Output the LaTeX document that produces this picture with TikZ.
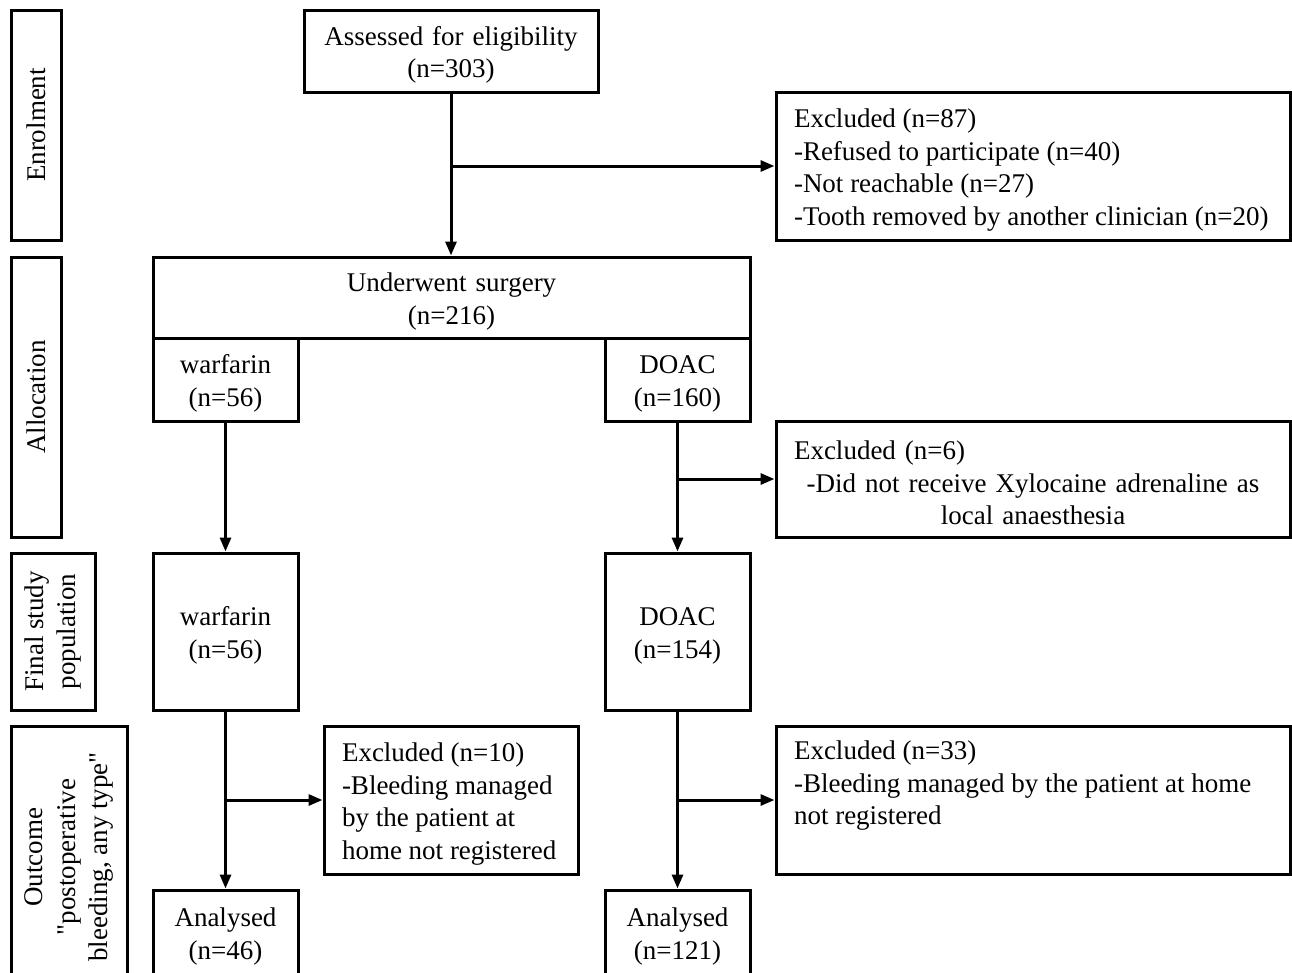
\documentclass[tikz,border=0pt]{standalone}
\usepackage{fontspec}
\newfontfamily\chartfont{Liberation Serif}
\usetikzlibrary{arrows.meta}

\def\pxu{0.75pt}

\begin{document}
\begin{tikzpicture}[x=0.75pt, y=-0.75pt, line width=2.25pt,
		base/.style={draw, line width=2.25pt, inner sep=0pt, align=center, font=\chartfont\fontsize{20.25pt}{24.5pt}\selectfont},
		box/.style={base, text width=#1, execute at begin node={\rule{0pt}{20pt}}},
		exbox/.style={box=#1, inner xsep=13.5pt, align=flush left},
		side/.style={base, rotate=90},
		arr/.style={-{Triangle[width=8.25pt,length=10.5pt]}}]
		\useasboundingbox[fill=white] (0,0) rectangle (1292,972);
		
		% enrolment
		\node[side, minimum width=230*\pxu, minimum height=50*\pxu] (enrol) at (36,125) {Enrolment};
		\node[box=220.5pt, minimum height=82*\pxu] (assess) at (451,51) {Assessed for eligibility\\(n=303)};
		\node[exbox=358.5pt, minimum height=148*\pxu] (exclA) at (1033,166) {Excluded (n=87)\\-Refused to participate (n=40)\\-Not reachable (n=27)\\\mbox{-Tooth removed by another clinician (n=20)}};
		
		% allocation
		\node[side, minimum width=280*\pxu, minimum height=50*\pxu] (alloc) at (36,397) {Allocation};
		\node[box=447.75pt, minimum height=81*\pxu] (surg) at (451.5,297.5) {Underwent surgery\\(n=216)};
		\node[box=108.75pt, minimum height=83*\pxu] (warfA) at (225.5,379.5) {warfarin\\(n=56)};
		\node[box=108.75pt, minimum height=83*\pxu] (doacA) at (677.5,379.5) {DOAC\\(n=160)};
		\node[exbox=358.5pt, align=center, minimum height=116*\pxu] (exclB) at (1033,479) {\makebox[358.5pt][l]{Excluded (n=6)}\\-Did not receive Xylocaine adrenaline as\\local anaesthesia};
		
		% final study population
		\node[side, minimum width=157*\pxu, minimum height=84*\pxu] (final) at (53,631.5) {Final study\\population};
		\node[box=108.75pt, minimum height=157*\pxu] (warfF) at (225.5,631.5) {warfarin\\(n=56)};
		\node[box=108.75pt, minimum height=157*\pxu] (doacF) at (677.5,631.5) {DOAC\\(n=154)};
		
		% outcome
		\node[side, minimum width=262*\pxu, minimum height=116*\pxu] (outc) at (69,857) {Outcome\\"postoperative\\bleeding, any type"};
		\node[exbox=163.5pt, minimum height=148*\pxu] (exclC) at (451,800) {Excluded (n=10)\\\mbox{-Bleeding managed}\\by the patient at\\\mbox{home not registered}};
		\node[exbox=358.5pt, minimum height=148*\pxu] (exclD) at (1033,800) {Excluded (n=33)\\\mbox{-Bleeding managed by the patient at home}\\not registered\\\strut};
		\node[box=108.75pt, minimum height=85*\pxu] (anaW) at (225.5,932.5) {Analysed\\(n=46)};
		\node[box=108.75pt, minimum height=85*\pxu] (anaD) at (677.5,932.5) {Analysed\\(n=121)};
		
		% connectors
		\draw[arr] (assess.south) -- (assess.south |- surg.north);
		\draw[arr] (assess.south |- exclA.west) -- (exclA.west);
		\draw[arr] (warfA.south) -- (warfF.north);
		\draw[arr] (doacA.south) -- (doacF.north);
		\draw[arr] (doacA.south |- exclB.west) -- (exclB.west);
		\draw[arr] (warfF.south) -- (anaW.north);
		\draw[arr] (warfF.south |- exclC.west) -- (exclC.west);
		\draw[arr] (doacF.south) -- (anaD.north);
		\draw[arr] (doacF.south |- exclD.west) -- (exclD.west);
\end{tikzpicture}
\end{document}
